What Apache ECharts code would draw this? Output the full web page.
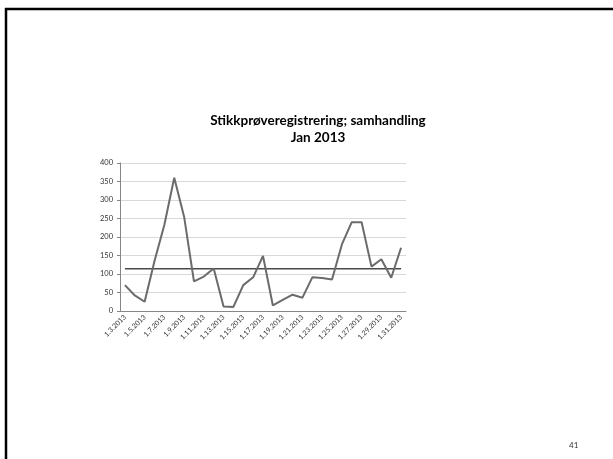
<!DOCTYPE html>
<html><head><meta charset="utf-8">
<script src="https://cdn.jsdelivr.net/npm/echarts@6/dist/echarts.min.js"></script>
<style>html,body{margin:0;padding:0;background:#fff}#c{width:613px;height:459px}</style>
</head><body><div id="c"></div>
<script>
const categories = ['1.3.2013','1.4.2013','1.5.2013','1.6.2013','1.7.2013','1.8.2013','1.9.2013','1.10.2013','1.11.2013','1.12.2013','1.13.2013','1.14.2013','1.15.2013','1.16.2013','1.17.2013','1.18.2013','1.19.2013','1.20.2013','1.21.2013','1.22.2013','1.23.2013','1.24.2013','1.25.2013','1.26.2013','1.27.2013','1.28.2013','1.29.2013','1.30.2013','1.31.2013'];
const registrations = [70,42,25,135,233,360,255,80,93,115,12,11,70,91,149,15,30,44,36,91,89,85,180,240,240,120,140,90,171];
const average = [114,114,114,114,114,114,114,114,114,114,114,114,114,114,114,114,114,114,114,114,114,114,114,114,114,114,114,114,114];
const yTicks = [0,50,100,150,200,250,300,350,400];
const titleText = 'Stikkprøveregistrering; samhandling\nJan 2013';
const pageNumber = '41';

const chart = echarts.init(document.getElementById('c'), null, {renderer:'canvas'});
chart.setOption({
  animation:false,
  backgroundColor:'#fff',
  title:{text:titleText,left:313,top:107,textAlign:'center',
    textStyle:{fontFamily:'Lato',fontWeight:'bold',fontSize:13.5,color:'#000',lineHeight:17}},
  grid:{left:120,right:207,top:163,height:148,containLabel:false},
  xAxis:{type:'category',data:categories,boundaryGap:true,
    axisLine:{lineStyle:{color:'#868686',width:1}},
    axisTick:{interval:1,length:3,lineStyle:{color:'#868686'}},
    axisLabel:{interval:1,rotate:45,fontSize:7,color:'#333',fontFamily:'Lato',margin:5}},
  yAxis:{type:'value',min:yTicks[0],max:yTicks[yTicks.length-1],interval:50,
    axisLine:{show:true,lineStyle:{color:'#868686',width:1}},
    axisTick:{show:true,length:3,lineStyle:{color:'#868686'}},
    splitLine:{lineStyle:{color:'#d9d9d9',width:1}},
    axisLabel:{fontSize:7.5,color:'#333',fontFamily:'Lato',margin:7}},
  series:[
    {type:'line',data:registrations,symbol:'none',lineStyle:{color:'#6b6b6b',width:2},z:3},
    {type:'line',data:average,symbol:'none',lineStyle:{color:'#4a4a4a',width:1.5},z:2}
  ],
  graphic:[
    {type:'line',shape:{x1:5,y1:9,x2:613,y2:9},style:{stroke:'#000',lineWidth:2.5}},
    {type:'line',shape:{x1:6,y1:8,x2:6,y2:459},style:{stroke:'#000',lineWidth:2.5}},
    {type:'text',left:569,top:441,style:{text:pageNumber,fontSize:8,fill:'#333',fontFamily:'Lato'}}
  ]
});
</script></body></html>
